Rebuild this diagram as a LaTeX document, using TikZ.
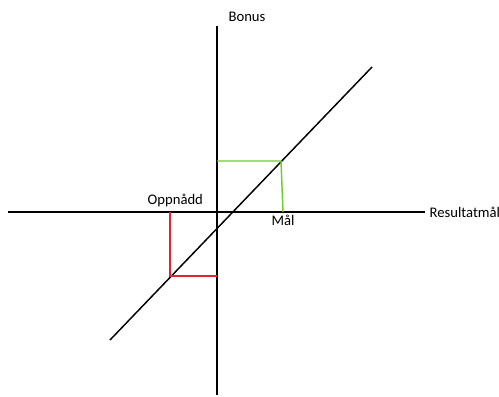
\documentclass[tikz,border=0pt]{standalone}
\usepackage{fontspec}
\setmainfont{Carlito}
\usepackage{tikz}
\usetikzlibrary{positioning}

\definecolor{goalgreen}{RGB}{110,205,40}
\definecolor{gotred}{RGB}{225,35,50}

\begin{document}
\begin{tikzpicture}[
    x=0.75pt, y=-0.75pt,
    axis/.style={line width=1.1pt, black},
    guide/.style={line width=1.1pt},
    lbl/.style={font=\fontsize{11}{13}\selectfont, inner sep=1pt},
]
  \useasboundingbox (0,0) rectangle (499,396);

  % axes
  \coordinate (xl) at (8,212);
  \coordinate (xr) at (425,212);
  \coordinate (yt) at (217,26);
  \coordinate (yb) at (217,395);
  \draw[axis] (xl) -- (xr);
  \draw[axis] (yt) -- (yb);

  % axis labels
  \node[lbl, anchor=west] (resultat) at (428,212) {Resultatmål};
  \node[lbl] (bonus) at (247,17) {Bonus};

  % bonus line
  \coordinate (lo) at (110,340);
  \coordinate (hi) at (372,67);
  \draw[axis] (lo) -- (hi);

  % target (green)
  \coordinate (ml) at (217,161);
  \coordinate (mt) at (281,161);
  \coordinate (mb) at (283,212);
  \draw[guide, goalgreen] (ml) -- (mt) -- (mb);
  \node[lbl, below=1.5pt of mb] (maal) {Mål};

  % achieved (red)
  \coordinate (ot) at (170,212);
  \coordinate (ob) at (170,276);
  \coordinate (or) at (217,276);
  \draw[guide, gotred] (ot) -- (ob) -- (or);
  \node[lbl, above=3pt of ot, xshift=4pt] (oppnaadd) {Oppnådd};

\end{tikzpicture}
\end{document}
